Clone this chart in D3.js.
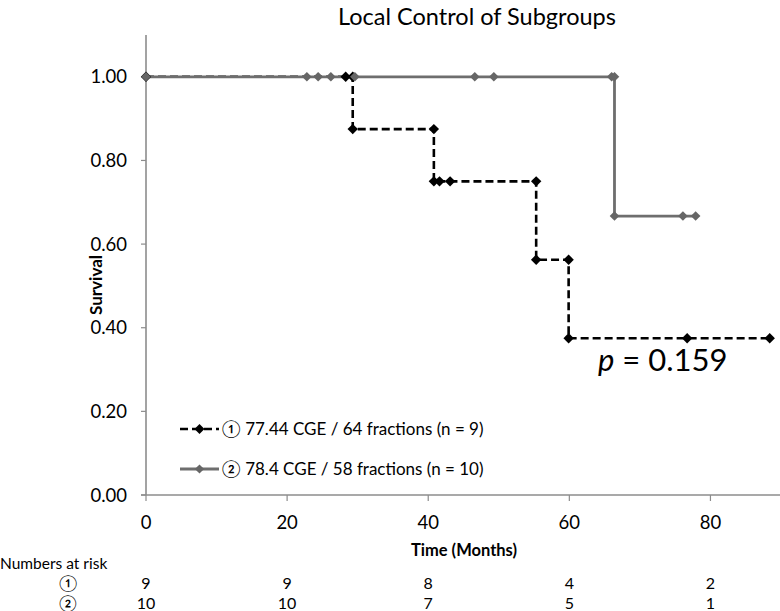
<!DOCTYPE html>
<html><head><meta charset="utf-8">
<script src="https://cdn.jsdelivr.net/npm/d3@7"></script>
<style>
html,body{margin:0;padding:0;background:#fff;}
svg{display:block;font-family:Lato,"Noto Sans",sans-serif;}
</style></head>
<body>
<svg id="chart" width="780" height="611"></svg>
<script>
// ---- data ----
const titleText = "Local Control of Subgroups";
const xTicks = [0, 20, 40, 60, 80];
const yTicks = [0, 0.2, 0.4, 0.6, 0.8, 1.0];
const group1Name = "\u2460 77.44 CGE / 64 fractions (n = 9)";
const group2Name = "\u2461 78.4 CGE / 58 fractions (n = 10)";
const group1Time = [0, 28.3, 29.3, 29.3, 40.8, 40.8, 41.6, 43.1, 55.3, 55.3, 59.9, 59.9, 76.7, 88.4];
const group1Surv = [1, 1, 1, 0.875, 0.875, 0.75, 0.75, 0.75, 0.75, 0.5625, 0.5625, 0.375, 0.375, 0.375];
const group2Time = [0, 22.8, 24.4, 26.2, 29.6, 46.6, 49.3, 66.0, 66.4, 66.4, 76.1, 77.9];
const group2Surv = [1, 1, 1, 1, 1, 1, 1, 1, 1, 0.667, 0.667, 0.667];
const riskLabels = ["\u2460", "\u2461"];
const riskGroup1 = [9, 9, 8, 4, 2];
const riskGroup2 = [10, 10, 7, 5, 1];
const pValueText = "0.159";

// ---- layout ----
const svg = d3.select("#chart");
const x = d3.scaleLinear().domain([0, 90]).range([146, 781]);
const y = d3.scaleLinear().domain([0, 1.1]).range([495, 35]);
const axisColor = "#8c8c8c";

// title
svg.append("text").attr("x", 477).attr("y", 25).attr("text-anchor", "middle")
  .attr("font-size", 23.5).attr("fill", "#000").text(titleText);

// axes
const gy = svg.append("g");
gy.append("line").attr("x1", x(0)).attr("x2", x(0)).attr("y1", y(1.1)).attr("y2", y(0))
  .attr("stroke", axisColor).attr("stroke-width", 1.6);
yTicks.forEach(t => {
  gy.append("line").attr("x1", x(0) - 5).attr("x2", x(0)).attr("y1", y(t)).attr("y2", y(t))
    .attr("stroke", axisColor).attr("stroke-width", 1.2);
  gy.append("text").attr("x", 127).attr("y", y(t)).attr("dy", "0.36em")
    .attr("text-anchor", "end").attr("font-size", 18.5).attr("fill", "#000")
    .text(d3.format(".2f")(t));
});
const gx = svg.append("g");
gx.append("line").attr("x1", x(0) - 5).attr("x2", 780).attr("y1", y(0)).attr("y2", y(0))
  .attr("stroke", axisColor).attr("stroke-width", 1.6);
xTicks.forEach(t => {
  gx.append("line").attr("x1", x(t)).attr("x2", x(t)).attr("y1", y(0)).attr("y2", y(0) + 6)
    .attr("stroke", axisColor).attr("stroke-width", 1.2);
  gx.append("text").attr("x", x(t)).attr("y", 529).attr("text-anchor", "middle")
    .attr("font-size", 18.5).attr("fill", "#000").text(t);
});

// axis titles
svg.append("text").attr("x", 464).attr("y", 556).attr("text-anchor", "middle")
  .attr("font-size", 16.5).attr("font-weight", "bold").text("Time (Months)");
svg.append("text").attr("transform", "translate(102,285) rotate(-90)")
  .attr("text-anchor", "middle").attr("font-size", 17).attr("font-weight", "bold").text("Survival");

// series
const diamond = s => `M0,${-s}L${s},0L0,${s}L${-s},0Z`;
const line = d3.line().x(d => x(d[0])).y(d => y(d[1]));
const g1 = group1Time.map((t, i) => [t, group1Surv[i]]);
const g2 = group2Time.map((t, i) => [t, group2Surv[i]]);

svg.append("path").datum(g1).attr("d", line).attr("fill", "none")
  .attr("stroke", "#000").attr("stroke-width", 2.6).attr("stroke-dasharray", "8,4");
svg.append("path").datum(g2).attr("d", line).attr("fill", "none")
  .attr("stroke", "#6e6e6e").attr("stroke-width", 2.8);
svg.append("g").selectAll("path").data(g1).join("path")
  .attr("transform", d => `translate(${x(d[0])},${y(d[1])})`)
  .attr("d", diamond(5.2)).attr("fill", "#000");
svg.append("g").selectAll("path").data(g2).join("path")
  .attr("transform", d => `translate(${x(d[0])},${y(d[1])})`)
  .attr("d", diamond(4.8)).attr("fill", "#666");

// legend
const leg = svg.append("g");
const legRows = [
  {name: group1Name, color: "#000", dash: "8,4", w: 2.6, y: 429, m: 5, mc: "#000"},
  {name: group2Name, color: "#6e6e6e", dash: null, w: 2.8, y: 469, m: 4.6, mc: "#666"}
];
legRows.forEach(r => {
  leg.append("line").attr("x1", 180).attr("x2", 219).attr("y1", r.y).attr("y2", r.y)
    .attr("stroke", r.color).attr("stroke-width", r.w).attr("stroke-dasharray", r.dash);
  leg.append("path").attr("transform", `translate(199.5,${r.y})`).attr("d", diamond(r.m))
    .attr("fill", r.mc);
  leg.append("text").attr("x", 222).attr("y", r.y).attr("dy", "0.36em")
    .attr("font-size", 17).attr("fill", "#000").text(r.name);
});

// p-value
const pt = svg.append("text").attr("x", 598).attr("y", 371).attr("font-size", 31).attr("fill", "#000");
pt.append("tspan").attr("font-style", "italic").text("p");
pt.append("tspan").text(" = " + pValueText);

// numbers at risk
svg.append("text").attr("x", 0).attr("y", 569).attr("font-size", 15.5).text("Numbers at risk");
[riskGroup1, riskGroup2].forEach((row, i) => {
  const yy = 589 + i * 20;
  svg.append("text").attr("x", 68).attr("y", yy).attr("text-anchor", "middle")
    .attr("font-size", 16).text(riskLabels[i]);
  row.forEach((v, j) => {
    svg.append("text").attr("x", x(xTicks[j])).attr("y", yy).attr("text-anchor", "middle")
      .attr("font-size", 16).text(v);
  });
});
</script>
</body></html>
